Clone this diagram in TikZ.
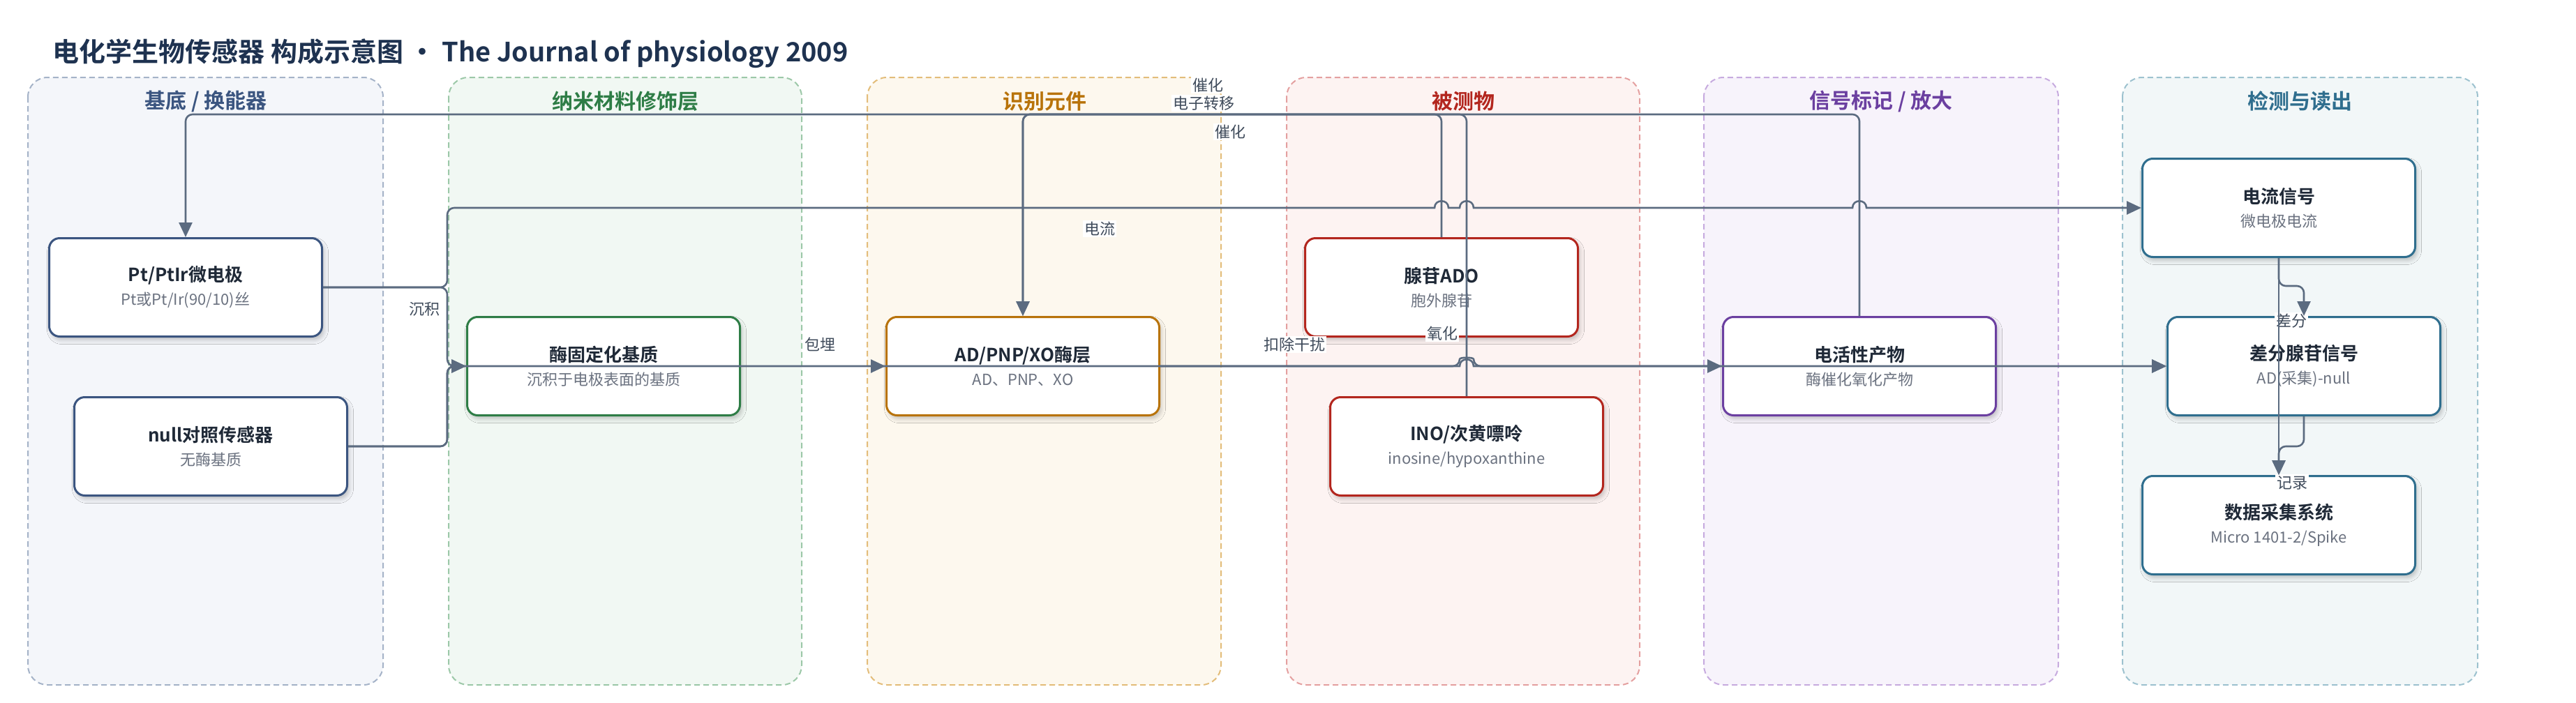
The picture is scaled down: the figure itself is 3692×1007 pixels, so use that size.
\documentclass[tikz,border=0pt]{standalone}
\usepackage{fontspec}
\setmainfont{Noto Sans CJK SC}[BoldFont={Noto Sans CJK SC Bold}]
\usepackage{tikz}
\usetikzlibrary{positioning,arrows.meta,shadows.blur}

\definecolor{titleInk}{HTML}{1E3250}
\definecolor{boxInk}{HTML}{1F2937}
\definecolor{subInk}{HTML}{6B7280}
\definecolor{labelInk}{HTML}{3F4B5B}
\definecolor{wire}{HTML}{5B6B80}
% lanes
\definecolor{baseFill}{HTML}{F4F6FA}\definecolor{baseLine}{HTML}{A5B3C8}\definecolor{baseText}{HTML}{3B5580}
\definecolor{nanoFill}{HTML}{F1F8F3}\definecolor{nanoLine}{HTML}{9CC8A8}\definecolor{nanoText}{HTML}{2E7D46}
\definecolor{recFill}{HTML}{FDF8EE}\definecolor{recLine}{HTML}{E3BD7A}\definecolor{recText}{HTML}{B8730A}
\definecolor{anaFill}{HTML}{FDF3F2}\definecolor{anaLine}{HTML}{E4A0A0}\definecolor{anaText}{HTML}{B3261E}
\definecolor{sigFill}{HTML}{F7F3FB}\definecolor{sigLine}{HTML}{C7ABDF}\definecolor{sigText}{HTML}{6B3FA0}
\definecolor{detFill}{HTML}{F2F7F8}\definecolor{detLine}{HTML}{9DC2CF}\definecolor{detText}{HTML}{2F6E8E}

\newcommand{\boxlabel}[2]{{\fontsize{26}{30}\selectfont\bfseries\color{boxInk}#1}\\[4pt]{\color{subInk}#2}}

\tikzset{
  lane/.style={draw=#1Line, fill=#1Fill, line width=2pt, dash pattern=on 8pt off 5pt, rounded corners=28pt},
  lanetitle/.style={text=#1Text, font=\fontsize{30}{34}\selectfont\bfseries},
  box/.style={draw=#1Text, line width=3pt, fill=white, rounded corners=15pt,
    minimum width=391pt, minimum height=141pt, align=center, inner sep=0pt,
    font=\fontsize{22}{30}\selectfont,
    blur shadow={shadow xshift=3pt, shadow yshift=-5pt, shadow blur radius=6pt, shadow opacity=22}},
  link/.style={draw=wire, line width=2.6pt, rounded corners=10pt, -{Triangle[length=21pt,width=19pt]}},
  elabel/.style={fill=white, inner sep=2pt, text=labelInk, font=\fontsize{22}{26}\selectfont}
}

\begin{document}
\begin{tikzpicture}[x=1pt, y=-1pt]
    \useasboundingbox (0,0) rectangle (3692,1007);

    \node[anchor=west, text=titleInk, font=\fontsize{38}{44}\selectfont\bfseries] (title) at (72,77)
        {电化学生物传感器 构成示意图 • The Journal of physiology 2009};

    % lanes
    \draw[lane=base] (40,111) rectangle (549,982);
    \draw[lane=nano] (643,111) rectangle (1149,982);
    \draw[lane=rec] (1243,111) rectangle (1750,982);
    \draw[lane=ana] (1844,111) rectangle (2350,982);
    \draw[lane=sig] (2442,111) rectangle (2950,982);
    \draw[lane=det] (3042,111) rectangle (3551,982);

    \node[lanetitle=base] (tBase) at (295,145) {基底 / 换能器};
    \node[lanetitle=nano] (tNano) at (896,145) {纳米材料修饰层};
    \node[lanetitle=rec] (tRec) at (1497,145) {识别元件};
    \node[lanetitle=ana] (tAna) at (2097,145) {被测物};
    \node[lanetitle=sig] (tSig) at (2696,145) {信号标记 / 放大};
    \node[lanetitle=det] (tDet) at (3296,145) {检测与读出};

    % blocks
    \node[box=base] (ptElec) at (266,412) {\boxlabel{Pt/PtIr微电极}{Pt或Pt/Ir(90/10)丝}};
    \node[box=base] (nullSens) at (302,640) {\boxlabel{null对照传感器}{无酶基质}};
    \node[box=nano] (immob) at (865,525) {\boxlabel{酶固定化基质}{沉积于电极表面的基质}};
    \node[box=rec] (enzLayer) at (1466,525) {\boxlabel{AD/PNP/XO酶层}{AD、PNP、XO}};
    \node[box=ana] (ado) at (2066,412) {\boxlabel{腺苷ADO}{胞外腺苷}};
    \node[box=ana] (ino) at (2102,640) {\boxlabel{INO/次黄嘌呤}{inosine/hypoxanthine}};
    \node[box=sig] (product) at (2665,525) {\boxlabel{电活性产物}{酶催化氧化产物}};
    \node[box=det] (current) at (3266,298) {\boxlabel{电流信号}{微电极电流}};
    \node[box=det] (diffSig) at (3302,525) {\boxlabel{差分腺苷信号}{AD(采集)-null}};
    \node[box=det] (daq) at (3266,753) {\boxlabel{数据采集系统}{Micro 1401-2/Spike}};

    % edge labels
    \node[elabel] (lCat1) at (1731,122) {催化};
    \node[elabel] (lElec) at (1725,148) {电子转移};
    \node[elabel] (lCat2) at (1763,189) {催化};
    \node[elabel] (lCurr) at (1576,328) {电流};
    \node[elabel] (lDep) at (608,443) {沉积};
    \node[elabel] (lEmb) at (1175,494) {包埋};
    \node[elabel] (lSub) at (1855,494) {扣除干扰};
    \node[elabel] (lOx) at (2067,478) {氧化};
    \node[elabel] (lDiff) at (3284,460) {差分};
    \node[elabel] (lRec) at (3285,692) {记录};

    % connectors
    \draw[link] (product.north) -- (product.north |- 0,164) -| (ptElec.north);
    \draw[link] (ado.north) -- (ado.north |- 0,164) -| (enzLayer.north);
    \draw[link] (ino.north) -- (ino.north |- 0,164) -| (enzLayer.north);
    \draw[link] (ptElec.east) -- (641,412) -- (641,298) -- (700,298) [sharp corners] -- (2056,298)
        .. controls (2056,285) and (2076,285) .. (2076,298) -- (2092,298)
        .. controls (2092,285) and (2112,285) .. (2112,298) -- (2655,298)
        .. controls (2655,285) and (2675,285) .. (2675,298) -- (current.west);
    \draw[link] (ptElec.east) -- (641,412) -- (641,525) -- (immob.west);
    \draw[link] (nullSens.east) -- (641,640) -- (641,525) -- (immob.west);
    \draw[link] (nullSens.east) -- (641,640) -- (641,525) -- (700,525) [sharp corners] -- (2092,525)
        .. controls (2092,512) and (2112,512) .. (2112,525) -- (diffSig.west);
    \draw[link] (immob.east) -- (enzLayer.west);
    \draw[link] (enzLayer.east) -- (2092,525)
        .. controls (2092,512) and (2112,512) .. (2112,525) -- (product.west);
    \draw[link] (product.east) -- (diffSig.west);
    \draw[link] (current.south) -- (3266,410) -- (3302,410) -- (diffSig.north);
    \draw[link] (current.south) -- (daq.north);
    \draw[link] (diffSig.south) -- (3302,640) -- (3266,640) -- (daq.north);
\end{tikzpicture}
\end{document}
